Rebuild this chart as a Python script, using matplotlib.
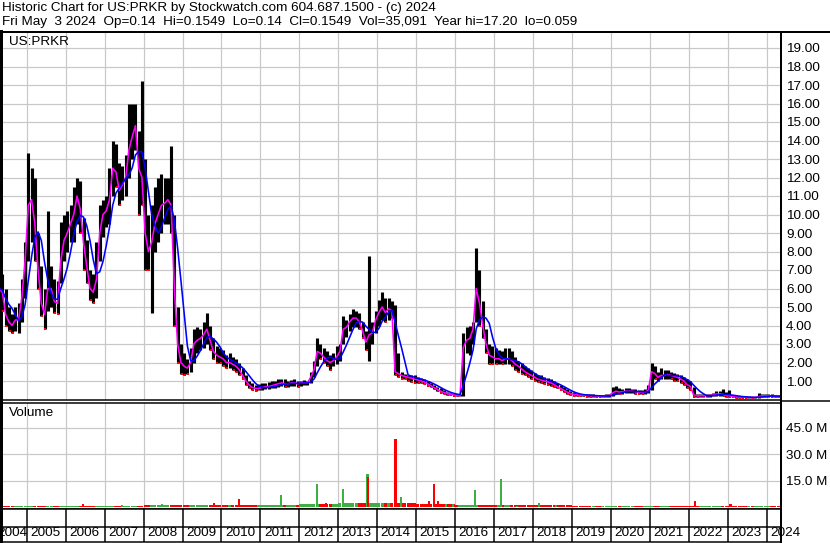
import matplotlib
matplotlib.use("Agg")
import matplotlib.pyplot as plt
from matplotlib.lines import Line2D
import numpy as np
import pandas as pd

plt.rcParams['font.family'] = ['Liberation Sans', 'DejaVu Sans']

W, H = 830, 543

# monthly price data, Apr 2004 .. May 2024 (low / close / high)
low = [
    5.0, 4.8, 4.0, 3.7, 3.6, 3.7, 3.6, 4.2, 5.5,                          # 2004 Apr-Dec
    7.5, 8.5, 7.5, 6.0, 4.5, 3.8, 4.8, 5.0, 4.7, 4.6, 6.3, 7.5,           # 2005
    8.0, 8.5, 8.5, 9.5, 9.0, 7.0, 6.3, 5.4, 5.2, 5.5, 7.5, 8.8,           # 2006
    9.3, 9.5, 11.0, 11.5, 10.5, 10.8, 11.0, 12.0, 13.0, 13.5, 10.0, 10.5, # 2007
    7.0, 7.0, 4.7, 8.0, 8.5, 9.0, 9.5, 9.5, 9.0, 4.0, 2.0, 1.4,           # 2008
    1.3, 1.4, 1.5, 2.0, 2.5, 2.7, 2.8, 3.0, 2.7, 2.2, 2.0, 2.0,           # 2009
    1.8, 1.7, 1.7, 1.6, 1.5, 1.3, 1.1, 0.8, 0.6, 0.5, 0.45, 0.5,          # 2010
    0.5, 0.55, 0.55, 0.6, 0.6, 0.7, 0.75, 0.7, 0.7, 0.75, 0.75, 0.7,      # 2011
    0.75, 0.8, 0.8, 0.9, 1.2, 1.8, 2.2, 2.0, 1.8, 1.6, 1.8, 1.9,          # 2012
    2.1, 3.0, 3.4, 3.7, 3.9, 3.9, 3.8, 3.3, 2.7, 2.1, 3.0, 3.6,           # 2013
    4.0, 4.3, 4.2, 4.3, 4.4, 1.3, 1.2, 1.1, 1.1, 1.0, 0.95, 0.9,          # 2014
    0.9, 0.9, 0.85, 0.75, 0.65, 0.55, 0.45, 0.35, 0.3, 0.25, 0.22, 0.2,   # 2015
    0.18, 0.18, 0.2, 2.5, 2.4, 3.0, 4.2, 4.0, 3.3, 2.5, 1.9, 1.9,         # 2016
    1.9, 1.9, 1.9, 1.9, 1.9, 1.8, 1.6, 1.5, 1.4, 1.3, 1.2, 1.1,           # 2017
    1.0, 0.95, 0.9, 0.85, 0.8, 0.75, 0.65, 0.6, 0.5, 0.4, 0.3, 0.25,      # 2018
    0.2, 0.2, 0.18, 0.18, 0.16, 0.15, 0.15, 0.14, 0.14, 0.14, 0.14, 0.15, # 2019
    0.2, 0.3, 0.3, 0.3, 0.35, 0.35, 0.35, 0.3, 0.3, 0.3, 0.3, 0.35,       # 2020
    0.5, 1.1, 1.0, 1.1, 1.1, 1.1, 1.1, 1.0, 1.0, 0.9, 0.8, 0.6,           # 2021
    0.5, 0.15, 0.15, 0.15, 0.15, 0.15, 0.15, 0.18, 0.2, 0.2, 0.18, 0.15,  # 2022
    0.15, 0.12, 0.1, 0.1, 0.1, 0.08, 0.08, 0.08, 0.08, 0.1, 0.12, 0.12,   # 2023
    0.12, 0.12, 0.12, 0.12, 0.14,                                         # 2024 Jan-May
]
close = [
    6.0, 5.8, 4.6, 4.2, 4.0, 4.3, 4.3, 5.5, 7.5,
    10.5, 10.8, 9.5, 7.0, 5.2, 4.6, 6.0, 6.0, 5.3, 5.2, 7.5, 8.6,
    9.0, 9.5, 10.0, 11.0, 10.3, 8.5, 7.2, 6.0, 5.8, 6.5, 9.0, 10.0,
    10.2, 10.8, 12.5, 12.3, 11.3, 11.6, 12.0, 13.5, 14.2, 14.8, 12.5, 12.0,
    9.0, 8.0, 8.5, 9.5, 10.0, 10.5, 10.6, 10.8, 10.5, 6.0, 3.0, 2.0,
    1.8, 1.7, 2.0, 3.0, 3.2, 3.3, 3.5, 3.8, 3.2, 2.6, 2.4, 2.3,
    2.2, 2.0, 2.0, 1.9, 1.8, 1.6, 1.3, 1.0, 0.8, 0.65, 0.6, 0.6,
    0.65, 0.7, 0.7, 0.75, 0.8, 0.85, 0.9, 0.85, 0.85, 0.9, 0.9, 0.85,
    0.9, 0.9, 0.9, 1.2, 1.6, 2.6, 2.5, 2.3, 2.1, 2.0, 2.1, 2.3,
    2.6, 3.8, 3.9, 4.2, 4.4, 4.4, 4.2, 3.7, 3.1, 3.5, 3.6, 4.3,
    4.7, 5.0, 4.7, 4.9, 4.8, 1.5, 1.4, 1.3, 1.25, 1.2, 1.15, 1.1,
    1.05, 1.0, 0.95, 0.85, 0.75, 0.65, 0.55, 0.45, 0.38, 0.32, 0.28, 0.26,
    0.22, 0.22, 2.8, 3.2, 3.3, 3.8, 6.0, 5.2, 4.0, 3.0, 2.4, 2.3,
    2.2, 2.2, 2.1, 2.2, 2.2, 2.1, 1.9, 1.8, 1.65, 1.5, 1.4, 1.3,
    1.2, 1.1, 1.05, 1.0, 0.95, 0.9, 0.8, 0.7, 0.6, 0.5, 0.4, 0.32,
    0.28, 0.26, 0.24, 0.23, 0.22, 0.2, 0.2, 0.19, 0.18, 0.18, 0.2, 0.22,
    0.35, 0.45, 0.4, 0.42, 0.45, 0.45, 0.45, 0.42, 0.4, 0.38, 0.4, 0.5,
    1.5, 1.4, 1.2, 1.3, 1.3, 1.35, 1.3, 1.25, 1.2, 1.1, 1.0, 0.8,
    0.7, 0.25, 0.2, 0.2, 0.2, 0.2, 0.22, 0.25, 0.3, 0.3, 0.28, 0.22,
    0.2, 0.17, 0.15, 0.14, 0.13, 0.12, 0.12, 0.11, 0.11, 0.15, 0.2, 0.2,
    0.2, 0.18, 0.17, 0.16, 0.155,
]
high = [
    6.8, 6.8, 6.0, 5.0, 4.6, 5.0, 5.2, 6.5, 8.5,
    13.3, 12.5, 12.0, 9.0, 7.2, 6.0, 10.2, 7.2, 6.5, 6.4, 9.6, 10.0,
    10.2, 10.5, 11.5, 12.0, 11.8, 9.8, 8.6, 7.0, 6.8, 8.5, 10.5, 10.8,
    11.0, 12.5, 14.0, 13.8, 12.8, 12.6, 13.2, 16.0, 16.0, 16.0, 14.5, 17.2,
    13.0, 10.0, 10.5, 11.5, 12.0, 12.2, 12.0, 12.0, 13.7, 10.0, 5.0, 3.0,
    2.5, 2.2, 2.8, 3.8, 3.9, 3.8, 4.2, 4.7, 4.0, 3.3, 2.9, 2.8,
    2.7, 2.4, 2.5, 2.3, 2.2, 2.0, 1.7, 1.3, 1.0, 0.9, 0.8, 0.85,
    0.9, 0.9, 0.95, 1.0, 1.0, 1.1, 1.1, 1.1, 1.0, 1.05, 1.1, 1.0,
    1.0, 1.05, 1.0, 1.5, 2.1, 3.3, 3.0, 2.8, 2.6, 2.4, 2.5, 2.9,
    3.0, 4.5, 4.3, 4.6, 4.9, 4.8, 4.7, 4.2, 3.7, 7.75, 4.2, 4.8,
    5.4, 5.8, 5.5, 5.5, 5.3, 5.1, 2.5, 1.5, 1.4, 1.35, 1.3, 1.3,
    1.2, 1.15, 1.1, 1.0, 0.9, 0.8, 0.7, 0.6, 0.5, 0.42, 0.36, 0.34,
    0.3, 0.28, 3.6, 3.9, 4.0, 4.2, 8.2, 7.0, 5.3, 3.8, 3.0, 2.9,
    2.8, 2.7, 2.6, 2.8, 2.8, 2.6, 2.3, 2.1, 2.0, 1.8, 1.7, 1.6,
    1.45, 1.35, 1.3, 1.2, 1.15, 1.1, 1.0, 0.9, 0.8, 0.65, 0.55, 0.45,
    0.38, 0.34, 0.32, 0.3, 0.3, 0.28, 0.28, 0.26, 0.25, 0.25, 0.3, 0.32,
    0.7, 0.75, 0.6, 0.55, 0.6, 0.6, 0.55, 0.55, 0.5, 0.5, 0.55, 0.8,
    1.95, 1.8, 1.5, 1.7, 1.6, 1.6, 1.5, 1.45, 1.4, 1.3, 1.2, 1.1,
    1.0, 0.7, 0.3, 0.28, 0.28, 0.3, 0.3, 0.35, 0.45, 0.45, 0.55, 0.4,
    0.5, 0.25, 0.2, 0.2, 0.18, 0.17, 0.16, 0.15, 0.15, 0.35, 0.3, 0.3,
    0.32, 0.28, 0.25, 0.22, 0.16,
]

# typical daily volume per year (millions), 2004..2024
vol_years = list(range(2004, 2025))
vol_base = [0.6, 0.7, 0.7, 0.8, 0.9, 1.0, 1.2, 1.4, 1.8, 2.5, 2.5,
            1.8, 1.2, 1.2, 1.0, 0.7, 0.7, 0.8, 0.8, 0.6, 0.6]

# volume spikes: date (decimal year), millions, up/down day
spike_date = [2006.45, 2007.44, 2008.47, 2009.81, 2010.44, 2011.52, 2012.45,
              2012.68, 2013.11, 2013.75, 2013.76, 2014.46, 2014.47, 2014.60,
              2015.33, 2015.46, 2015.55, 2015.76, 2015.95, 2016.50, 2017.17,
              2017.58, 2018.15, 2018.59, 2022.15, 2023.07]
spike_vol = [1.5, 1.1, 1.7, 2.2, 4.6, 6.8, 13.0,
             2.2, 10.2, 18.8, 17.0, 10.0, 38.7, 5.7,
             3.4, 13.0, 3.4, 1.7, 1.7, 9.7, 16.0,
             0.7, 2.2, 1.1, 3.4, 1.7]
spike_up = [False, True, True, False, False, True, True,
            False, True, True, False, True, False, True,
            False, False, False, True, True, True, True,
            True, True, True, False, False]

year_ticks = list(range(2005, 2025))
year_labels = [str(y) for y in range(2004, 2025)]
price_ticks = list(range(1, 20))
vol_ticks = [15, 30, 45]

# ---- dates ----
months = pd.period_range('2004-04', '2024-05', freq='M')
t = np.array([p.year + (p.month - 0.5) / 12 for p in months])
df = pd.DataFrame({'t': t, 'low': low, 'close': close, 'high': high})
df['ma_fast'] = df['close']
df['ma_slow'] = df['close'].rolling(5, min_periods=1).mean()
df['down'] = df['close'].diff() < 0

# pixel geometry: x=26.7 is Jan 2005, 38.95 px per year
PX_YEAR = 38.95
T0 = 2005 - 26.7 / PX_YEAR
T1 = 2005 + (781 - 26.7) / PX_YEAR

GRID = '#c8c8c8'
GREEN = '#3cb043'
FS = 9.7

fig = plt.figure(figsize=(W / 100, H / 100), dpi=100)


def rect(x0, y0, x1, y1):
    return [x0 / W, 1 - y1 / H, (x1 - x0) / W, (y1 - y0) / H]


def px(v):
    # pixels -> points
    return v * 72 / 100


ax_p = fig.add_axes(rect(0, 32, 781, 400))
ax_v = fig.add_axes(rect(0, 402.5, 781, 509))
ax_d = fig.add_axes(rect(0, 509, 781, 541.5))

for ax in (ax_p, ax_v, ax_d):
    ax.set_xlim(T0, T1)
    for side in ('top', 'right', 'bottom'):
        ax.spines[side].set_linewidth(px(1.5))
    ax.spines['left'].set_linewidth(px(5))
    ax.set_xticks(year_ticks)
    ax.tick_params(axis='x', length=0, labelbottom=False)

# ---- price panel ----
ax_p.set_ylim((399.5 - 400) / 18.5, (399.5 - 32) / 18.5)
ax_p.set_yticks(price_ticks)
ax_p.set_yticklabels([f'{v:.2f}' for v in price_ticks])
ax_p.grid(True, color=GRID, lw=px(1.2))
ax_p.set_axisbelow(True)

ax_p.vlines(df['t'], df['low'], df['high'], color='black', lw=px(3.1), zorder=2)
dn = df[df['down']]
ax_p.plot(dn['t'] + 0.02, dn['low'], 's', color='red', ms=1.8, mew=0, zorder=3)
ax_p.plot(df['t'], df['ma_fast'], color='#ff00ff', lw=px(1.6), zorder=4)
ax_p.plot(df['t'], df['ma_slow'], color='#0000ff', lw=px(1.6), zorder=5)
ax_p.text(9 / 781, 1 - 10 / 368, 'US:PRKR', transform=ax_p.transAxes,
          fontsize=FS, va='center', ha='left')

# ---- volume panel ----
ax_v.set_ylim((507 - 509) / 1.756, (507 - 402.5) / 1.756)
ax_v.set_yticks(vol_ticks)
ax_v.set_yticklabels([f'{v:.1f} M' for v in vol_ticks])
ax_v.grid(True, color=GRID, lw=px(1.2))
ax_v.set_axisbelow(True)

base_vol = df['t'].apply(lambda x: vol_base[vol_years.index(int(x))])
base_col = np.where(df['down'], 'red', GREEN)
ax_v.bar(df['t'], base_vol, width=1 / 12 * 0.95, color=base_col, zorder=2)
ax_v.bar(spike_date, spike_vol, width=0.055,
         color=[GREEN if u else 'red' for u in spike_up], zorder=3)
ax_v.text(9 / 781, 1 - 10.5 / 106.5, 'Volume', transform=ax_v.transAxes,
          fontsize=FS, va='center', ha='left')

for ax in (ax_p, ax_v):
    ax.yaxis.tick_right()
    ax.tick_params(axis='y', length=0, pad=px(5), labelsize=FS)

# ---- date strip ----
ax_d.set_ylim(0, 1)
ax_d.set_yticks([])
ax_d.axhline(1 - 17.7 / 32.5, color='black', lw=px(1.5))
ax_d.vlines(year_ticks, 0, 1, color='black', lw=px(1.5))
for lab in year_labels:
    y = int(lab)
    if y == 2004:
        ax_d.text(2005 + 0.5 / PX_YEAR, 0.25, lab, ha='right', va='center',
                  fontsize=FS, clip_on=False)
    else:
        ax_d.text(y + 3.5 / PX_YEAR, 0.25, lab, ha='left', va='center',
                  fontsize=FS, clip_on=False)

# ---- frame lines and header ----
fig.add_artist(Line2D([0, 1], [1 - 31.5 / H] * 2, color='black', lw=px(2)))
fig.add_artist(Line2D([781 / W] * 2, [0, 1 - 31.5 / H], color='black', lw=px(2)))
fig.add_artist(Line2D([781 / W, 1], [1 - 400.7 / H] * 2, color='black', lw=px(1.5)))

fig.text(2 / W, 1 - 8 / H, 'Historic Chart for US:PRKR by Stockwatch.com 604.687.1500 - (c) 2024',
         fontsize=FS, va='center', ha='left')
fig.text(2 / W, 1 - 22 / H,
         'Fri May  3 2024  Op=0.14  Hi=0.1549  Lo=0.14  Cl=0.1549  Vol=35,091  Year hi=17.20  lo=0.059',
         fontsize=FS, va='center', ha='left')

fig.savefig('out.png', dpi=100)
